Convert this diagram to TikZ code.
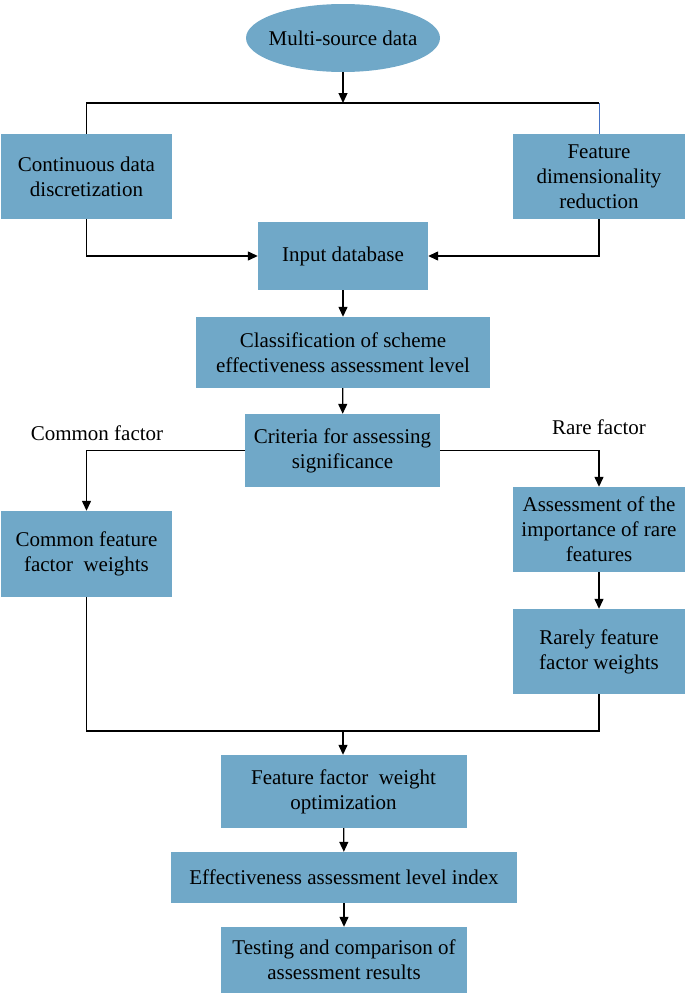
\documentclass[tikz,border=0pt]{standalone}
\usepackage{fontspec}
\setmainfont{Liberation Serif}
\usetikzlibrary{shapes.geometric,arrows.meta}
\definecolor{boxblue}{RGB}{112,168,200}
\definecolor{lineblue}{RGB}{68,114,196}
\begin{document}
\begin{tikzpicture}[x=1pt,y=-1pt,
  box/.style={rectangle,fill=boxblue,draw=none,inner sep=2pt,align=center,font=\fontsize{21}{25}\selectfont},
  lbl/.style={inner sep=0pt,font=\fontsize{21}{25}\selectfont},
  conn/.style={line width=1.3pt,black},
  arr/.style={conn,-{Triangle[length=10pt,width=9pt]}}]
\useasboundingbox (0,0) rectangle (685,993);
\node[ellipse,fill=boxblue,minimum width=194pt,minimum height=68pt,inner xsep=-20pt,inner ysep=0pt,font=\fontsize{21}{25}\selectfont] (ms) at (343,38) {Multi-source data};
\coordinate (t) at (343,103);
\node[box,minimum width=171pt,minimum height=85pt] (cont) at (86.5,176.5) {Continuous data\\discretization};
\node[box,minimum width=172pt,minimum height=85pt] (feat) at (599,176.5) {Feature\\dimensionality\\reduction};
\node[box,minimum width=170pt,minimum height=68pt] (input) at (343,256) {Input database};
\node[box,minimum width=294pt,minimum height=71pt] (class) at (343,352.5) {Classification of scheme\\effectiveness assessment level};
\node[box,minimum width=195pt,minimum height=73pt] (crit) at (342.5,450.5) {Criteria for assessing\\significance};
\node[box,minimum width=171pt,minimum height=86pt] (common) at (86.5,554) {Common feature\\factor~~weights};
\node[box,minimum width=172pt,minimum height=85pt] (assess) at (599,529.5) {Assessment of the\\importance of rare\\features};
\node[box,minimum width=172pt,minimum height=85pt] (rarely) at (599,651.5) {Rarely feature\\factor weights};
\coordinate (m) at (343,731);
\node[box,minimum width=246pt,minimum height=73pt] (ffw) at (343.5,791.5) {Feature factor~~weight\\optimization};
\node[box,minimum width=346pt,minimum height=51pt] (eff) at (344,877.5) {Effectiveness assessment level index};
\node[box,minimum width=246pt,minimum height=66pt] (test) at (344,960) {Testing and comparison of\\assessment results};
\node[lbl] (cf) at (97,433) {Common factor};
\node[lbl] (rf) at (599,427) {Rare factor};
% connectors
\draw[arr] (ms) -- (t);
\draw[conn] (cont.north) -- (cont.north |- t) -- (feat.north |- t);
\draw[line width=1pt,lineblue] (feat.north |- t) -- (feat.north);
\draw[arr] (cont.south) |- (input.west);
\draw[arr] (feat.south) |- (input.east);
\draw[arr] (input) -- (class);
\draw[arr] (class) -- (crit);
\draw[arr] (crit.west) -| (common.north);
\draw[arr] (crit.east) -| (assess.north);
\draw[arr] (assess) -- (rarely);
\draw[conn] (common.south) |- (rarely.south |- m) -- (rarely.south);
\draw[arr] (m) -- (m |- ffw.north);
\draw[arr] (ffw) -- (eff);
\draw[arr] (eff) -- (test);
\end{tikzpicture}
\end{document}
